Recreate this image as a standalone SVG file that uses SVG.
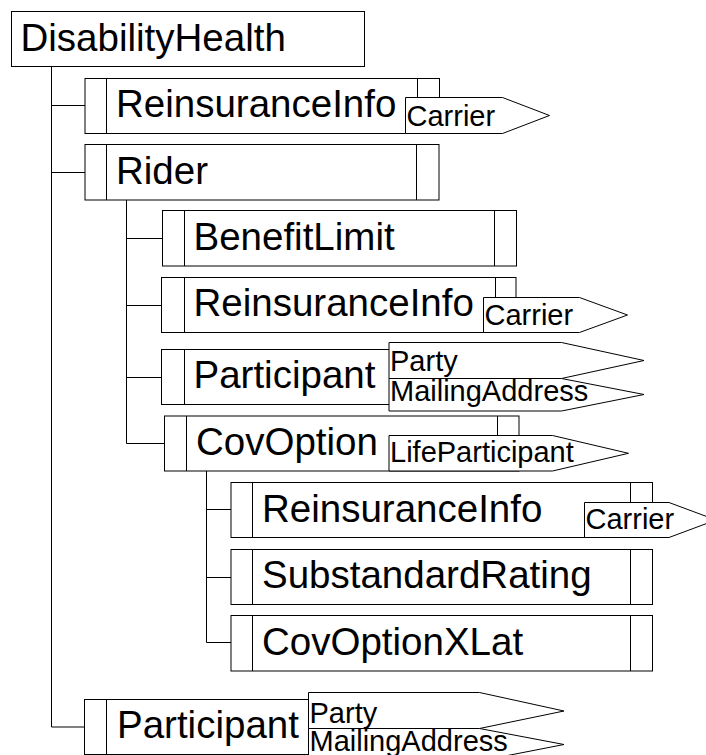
<svg xmlns="http://www.w3.org/2000/svg" width="706" height="755" viewBox="0 0 706 755">
<style>
.box{fill:#fff;stroke:#000;stroke-width:1}
.ln{fill:none;stroke:#000;stroke-width:1}
.tag{fill:#fff;stroke:#000;stroke-width:1}
.t{font-family:"Liberation Sans",Arial,sans-serif;font-size:38.5px;fill:#000}
.s{font-family:"Liberation Sans",Arial,sans-serif;font-size:29px;fill:#000}
</style>
<rect width="706" height="755" fill="#fff"/>
<g id="connectors">
<path class="ln" d="M51.5,66.5V727M51.5,105.5H85M51.5,172.5H85M51.5,727H84.5"/>
<path class="ln" d="M126.5,200V443.5M126.5,238.5H162.5M126.5,305.5H161.5M126.5,377.5H161.5M126.5,443.5H164.5"/>
<path class="ln" d="M206.5,471V642.5M206.5,509.5H231M206.5,577.5H231M206.5,642.5H231"/>
</g>
<g id="DisabilityHealth">
<rect class="box" x="11.5" y="11.5" width="353" height="55"/>
<text class="t" x="20.5" y="50.7">DisabilityHealth</text>
</g>
<g id="ReinsuranceInfo1">
<rect class="box" x="85" y="78.5" width="354.5" height="55"/>
<path class="ln" d="M106.5,78.5V133.5M417.5,78.5V133.5"/>
<text class="t" x="116" y="117.3">ReinsuranceInfo</text>
<path class="tag" d="M405.5,97.5H502.5L549.5,115.5L502.5,133.5H405.5Z"/>
<text class="s" x="406.5" y="125.5">Carrier</text>
</g>
<g id="Rider">
<rect class="box" x="85" y="144.5" width="354" height="55.5"/>
<path class="ln" d="M106.5,144.5V200M416.5,144.5V200"/>
<text class="t" x="116" y="183.6">Rider</text>
</g>
<g id="BenefitLimit">
<rect class="box" x="162.5" y="210.5" width="354" height="55.5"/>
<path class="ln" d="M184.5,210.5V266M494.5,210.5V266"/>
<text class="t" x="193.5" y="249.7">BenefitLimit</text>
</g>
<g id="ReinsuranceInfo2">
<rect class="box" x="161.5" y="277.5" width="354.5" height="55"/>
<path class="ln" d="M184.5,277.5V332.5M495.5,277.5V332.5"/>
<text class="t" x="193.5" y="316.3">ReinsuranceInfo</text>
<path class="tag" d="M483.5,297.5H579.5L627.5,315L579.5,332.5H483.5Z"/>
<text class="s" x="484.5" y="324.5">Carrier</text>
</g>
<g id="Participant2">
<rect class="box" x="161.5" y="349.5" width="354.5" height="55"/>
<path class="ln" d="M184.5,349.5V404.5M494.5,349.5V404.5"/>
<text class="t" x="193.5" y="388.3">Participant</text>
<path class="tag" d="M389,342.5H561.5L644,360.5L561.5,378.5H389Z"/>
<path class="tag" d="M389,378.5H561.5L644,394.5L561.5,411H389Z"/>
<text class="s" x="390" y="370.5">Party</text>
<text class="s" x="390" y="400.7">MailingAddress</text>
</g>
<g id="CovOption">
<rect class="box" x="164.5" y="416" width="354.5" height="55"/>
<path class="ln" d="M186.5,416V471M497.5,416V471"/>
<text class="t" x="196" y="455">CovOption</text>
<path class="tag" d="M389,435.5H552.5L628.5,453.3L552.5,471H389Z"/>
<text class="s" x="390" y="461.7">LifeParticipant</text>
</g>
<g id="ReinsuranceInfo3">
<rect class="box" x="231" y="482.5" width="421.5" height="55"/>
<path class="ln" d="M252.5,482.5V537.5M630.5,482.5V537.5"/>
<text class="t" x="262" y="521.7">ReinsuranceInfo</text>
<path class="tag" d="M584.5,502.5H669L716,520L669,537.5H584.5Z"/>
<text class="s" x="585.5" y="529">Carrier</text>
</g>
<g id="SubstandardRating">
<rect class="box" x="231" y="549.5" width="421.5" height="55"/>
<path class="ln" d="M252.5,549.5V604.5M630.5,549.5V604.5"/>
<text class="t" x="262" y="588.3">SubstandardRating</text>
</g>
<g id="CovOptionXLat">
<rect class="box" x="231" y="615.5" width="421.5" height="55.5"/>
<path class="ln" d="M252.5,615.5V671M630.5,615.5V671"/>
<text class="t" x="262" y="654.7">CovOptionXLat</text>
</g>
<g id="Participant1">
<rect class="box" x="84.5" y="699.5" width="354.5" height="55"/>
<path class="ln" d="M106.5,699.5V754.5M417.5,699.5V754.5"/>
<text class="t" x="117" y="738.3">Participant</text>
<path class="tag" d="M308.5,692.5H479.5L564,711L479.5,728.5H308.5Z"/>
<path class="tag" d="M308.5,728.5H479.5L564,744.5L479.5,761H308.5Z"/>
<text class="s" x="309.5" y="723">Party</text>
<text class="s" x="309.5" y="751">MailingAddress</text>
</g>
</svg>
